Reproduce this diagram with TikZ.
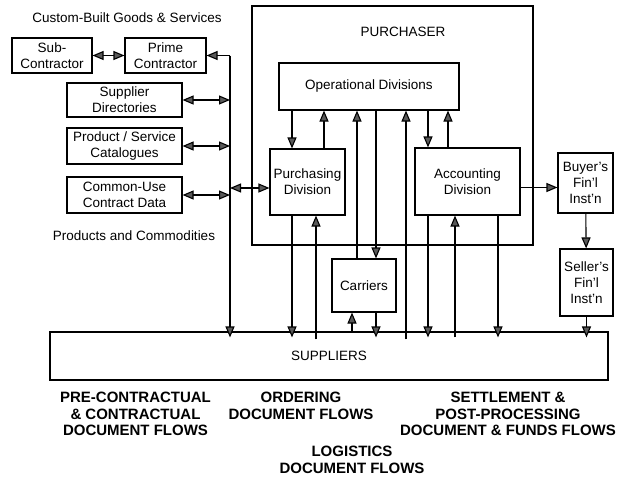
\documentclass[tikz,border=0pt]{standalone}
\usepackage{fontspec}
\setmainfont{Liberation Sans}
\usetikzlibrary{arrows.meta,positioning,calc}

\begin{document}
\begin{tikzpicture}[
  x=1pt, y=-1pt,
  >={Triangle[width=9pt,length=11pt,fill=black!65]},
  line width=1.1pt,
  every node/.style={font=\fontsize{13.5}{16}\selectfont, align=center},
  box/.style={draw, rectangle, inner sep=0pt},
  into/.style={->, shorten >=-6pt},
  flow/.style={font=\fontsize{15}{16.5}\selectfont\bfseries}
]
\useasboundingbox (0,0) rectangle (624,479);

% left column
\node (custom)   at (127,18)  {Custom-Built Goods \& Services};
\node[box, minimum width=80pt,  minimum height=35pt] (sub)     at (52,55.5)    {Sub-\\Contractor};
\node[box, minimum width=81pt,  minimum height=35pt] (prime)   at (165.5,55.5) {Prime\\Contractor};
\node[box, minimum width=115pt, minimum height=34pt] (dirs)    at (124.5,100)  {Supplier\\Directories};
\node[box, minimum width=115pt, minimum height=36pt] (catalog) at (124.5,146)  {Product / Service\\Catalogues};
\node[box, minimum width=115pt, minimum height=36pt] (common)  at (124.5,195)  {Common-Use\\Contract Data};
\node (products) at (134,236) {Products and Commodities};

% purchaser
\node[box, minimum width=281pt, minimum height=239pt] (purchaser) at (392.5,125.5) {};
\node (purlabel) at (403,32) {PURCHASER};
\node[box, minimum width=180pt, minimum height=47pt] (opdiv) at (369,86.5)    {Operational Divisions};
\node[box, minimum width=75pt,  minimum height=66pt] (purch) at (307.5,182)   {Purchasing\\Division};
\node[box, minimum width=105pt, minimum height=67pt] (acct)  at (467.5,181.5) {Accounting\\Division};

% outside parties
\node[box, minimum width=55pt, minimum height=60pt] (buyer)    at (585.5,183)   {Buyer's\\Fin'l\\Inst'n};
\node[box, minimum width=53pt, minimum height=67pt] (seller)   at (586.5,282.5) {Seller's\\Fin'l\\Inst'n};
\node[box, minimum width=64pt, minimum height=53pt] (carriers) at (364,285.5)   {Carriers};
\node[box, minimum width=558pt, minimum height=48pt] (suppliers) at (329,356)   {SUPPLIERS};

% flow captions
\node[flow] (pre)       at (135.5,414) {PRE-CONTRACTUAL\\\& CONTRACTUAL\\DOCUMENT FLOWS};
\node[flow] (ordering)  at (301,406)   {ORDERING\\DOCUMENT FLOWS};
\node[flow] (logistics) at (352,460)   {LOGISTICS\\DOCUMENT FLOWS};
\node[flow] (settle)    at (508,414)   {SETTLEMENT \&\\POST-PROCESSING\\DOCUMENT \& FUNDS FLOWS};

% vertical lanes
\foreach \ln/\lx in {trunk/230, la/292, lb/316, lc/324, ld/352, le/357,
                     lf/376, lg/406, lh/428, li/448, lj/455, lk/498}
  \coordinate (\ln) at (\lx,0);

% pre-contractual
\draw[<->] (sub) -- (prime);
\draw[<-] (prime.east) -- (prime.east -| trunk);
\draw[into] (prime.east -| trunk) -- (trunk |- suppliers.north);
\draw[<->] (dirs) -- (dirs -| trunk);
\draw[<->] (catalog) -- (catalog -| trunk);
\draw[<->] (common) -- (common -| trunk);
\draw[<->] ([yshift=-6pt]purch.west -| trunk) -- ([yshift=-6pt]purch.west);

% inside the purchaser
\draw[->] (opdiv.south -| la) -- (purch.north -| la);
\draw[->] (purch.north -| lc) -- (opdiv.south -| lc);
\draw[->] (opdiv.south -| lh) -- (acct.north -| lh);
\draw[->] (acct.north -| li) -- (opdiv.south -| li);

% ordering
\draw[into] (purch.south -| la) -- (suppliers.north -| la);
\draw[->] ([yshift=-8pt]suppliers.north -| lb) -- (purch.south -| lb);
\draw[->] ([yshift=-8pt]suppliers.north -| lg) -- (opdiv.south -| lg);

% logistics
\draw[->] (opdiv.south -| lf) -- (carriers.north -| lf);
\draw[->] (carriers.north -| le) -- (opdiv.south -| le);
\draw[->] (suppliers.north -| ld) -- (carriers.south -| ld);
\draw[into] (carriers.south -| lf) -- (suppliers.north -| lf);

% settlement
\draw[into] (acct.south -| lh) -- (suppliers.north -| lh);
\draw[->] ([yshift=-6pt]suppliers.north -| lj) -- (acct.south -| lj);
\draw[into] (acct.south -| lk) -- (suppliers.north -| lk);
\draw[->] ([yshift=-6pt]acct.east) -- ([yshift=-6pt]acct.east -| buyer.west);
\draw[->] (buyer) -- (seller);
\draw[into] (seller.south) -- (seller.south |- suppliers.north);
\end{tikzpicture}
\end{document}
